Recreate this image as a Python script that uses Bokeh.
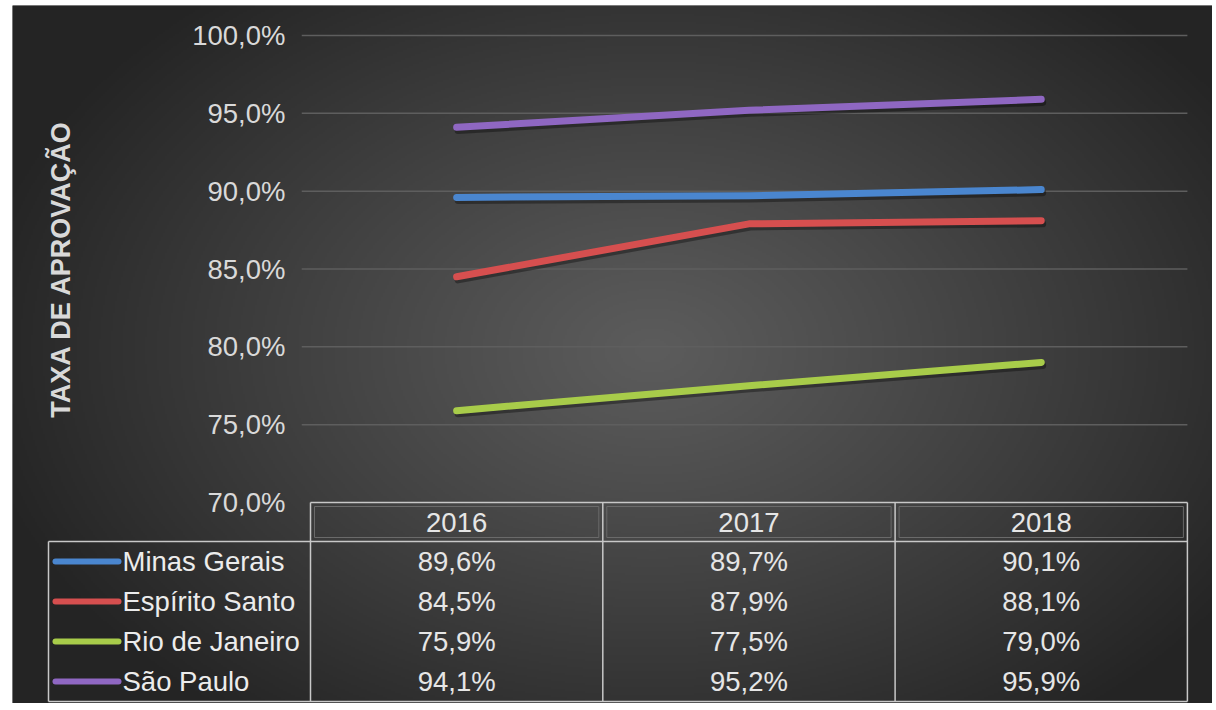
import numpy as np
from bokeh.plotting import figure
from bokeh.models import Range1d, LinearAxis, FixedTicker, CustomJSTickFormatter
from bokeh.core.properties import value
from bokeh.embed import file_html
from bokeh.resources import INLINE

# ---------------- data ----------------
years = ["2016", "2017", "2018"]
states = ["Minas Gerais", "Espírito Santo", "Rio de Janeiro", "São Paulo"]
minas_gerais = [89.6, 89.7, 90.1]
espirito_santo = [84.5, 87.9, 88.1]
rio_de_janeiro = [75.9, 77.5, 79.0]
sao_paulo = [94.1, 95.2, 95.9]
y_ticks = [70, 75, 80, 85, 90, 95, 100]

series = [minas_gerais, espirito_santo, rio_de_janeiro, sao_paulo]
colors = ["#4a86cf", "#d64f4f", "#a8cc4a", "#8f67c2"]

# ---------------- geometry ----------------
LEFT, TOP = 12, 5          # white strip around the dark chart
FW, FH = 1200, 698         # dark frame size
W, H = LEFT + FW, TOP + FH
PX_X = 292.3               # px per year column
PX_Y = 467.0 / 30.0        # px per percentage point
x_start = -(310 - LEFT) / PX_X
x_end = x_start + FW / PX_X
y_end = 100 + (35 - TOP) / PX_Y
y_start = y_end - FH / PX_Y

n = len(years)
xc = [i + 0.5 for i in range(n)]
FONT = value("Liberation Sans")
FS = "27.5px"

p = figure(width=W, height=H, output_backend="svg", toolbar_location=None,
           x_range=Range1d(x_start, x_end), y_range=Range1d(y_start, y_end),
           x_axis_type=None, y_axis_type=None,
           min_border_left=LEFT, min_border_top=TOP, min_border_right=0, min_border_bottom=0)
p.outline_line_color = None
p.background_fill_color = "#262626"
p.border_fill_color = "white"

# radial background gradient
nx, ny = 600, 350
fx = np.linspace(0, FW, nx)
fy = np.linspace(FH, 0, ny)
FX, FY = np.meshgrid(fx, fy)
t = np.sqrt(((FX - 640) / 690.0) ** 2 + ((FY - 345) / 470.0) ** 2)
t = np.clip(t, 0, 1)
g = (92 - (92 - 36) * t ** 1.1).astype(np.uint8)
rgba = np.zeros((ny, nx, 4), dtype=np.uint8)
rgba[..., 0] = g
rgba[..., 1] = g
rgba[..., 2] = g
rgba[..., 3] = 255
img = rgba.view(dtype=np.uint32).reshape((ny, nx))
bg = p.image_rgba(image=[img], x=x_start, y=y_start, dw=x_end - x_start, dh=y_end - y_start)
bg.level = "image"

# horizontal gridlines over the plot area only
p.segment(x0=[-0.03] * (len(y_ticks) - 1), y0=y_ticks[1:],
          x1=[n] * (len(y_ticks) - 1), y1=y_ticks[1:],
          line_color="#5e5e5e", line_width=1.5)

# y axis placed at the start of the plot area
fmt = CustomJSTickFormatter(code="return tick.toFixed(1).replace('.', ',') + '%';")
ax = LinearAxis(fixed_location=0, ticker=FixedTicker(ticks=y_ticks), formatter=fmt,
                bounds=(70, 100), axis_label="TAXA DE APROVAÇÃO")
ax.axis_line_color = None
ax.major_tick_line_color = None
ax.minor_tick_line_color = None
ax.major_tick_out = 0
ax.major_tick_in = 0
ax.major_label_standoff = 25
ax.major_label_text_font = "Liberation Sans"
ax.major_label_text_font_size = FS
ax.major_label_text_color = "#d9d9d9"
ax.axis_label_standoff = 113
ax.axis_label_text_font = "Liberation Sans"
ax.axis_label_text_font_size = "27px"
ax.axis_label_text_font_style = "bold"
ax.axis_label_text_color = "#d9d9d9"
p.add_layout(ax, "left")

# lines with soft shadow
for vals, c in zip(series, colors):
    p.line([x + 0.005 for x in xc], [v - 0.2 for v in vals], line_color="black",
           line_alpha=0.35, line_width=7, line_cap="round", line_join="round")
    p.line(xc, vals, line_color=c, line_width=7, line_cap="round", line_join="round")

# ---------------- data table ----------------
row_h = 40 / PX_Y
header_top = 70
header_bot = 70 - 39 / PX_Y
table_bot = header_bot - len(states) * row_h
leg_left = (48 - 310) / PX_X
tbl_col = "#c8c8c8"

# horizontal lines
p.segment(x0=[0, leg_left, leg_left], y0=[header_top, header_bot, table_bot],
          x1=[n, n, n], y1=[header_top, header_bot, table_bot],
          line_color=tbl_col, line_width=1.5)
# vertical lines
p.segment(x0=[i for i in range(n + 1)] + [leg_left],
          y0=[header_top] * (n + 1) + [header_bot],
          x1=[i for i in range(n + 1)] + [leg_left],
          y1=[table_bot] * (n + 2),
          line_color=tbl_col, line_width=1.5)
# faint inner bevel of header
inset_x = 4 / PX_X
inset_y = 4 / PX_Y
p.quad(left=[i + inset_x for i in range(n)], right=[i + 1 - inset_x for i in range(n)],
       top=[header_top - inset_y] * n, bottom=[header_bot + inset_y] * n,
       fill_color=None, line_color="#6a6a6a", line_width=1)

# header years
p.text(x=xc, y=[(header_top + header_bot) / 2] * n, text=years,
       text_font=FONT, text_font_size=FS,
       text_color="#e6e6e6", text_align="center", text_baseline="middle")

# rows
for r, (name, vals, c) in enumerate(zip(states, series, colors)):
    yc = header_bot - (r + 0.5) * row_h
    p.line([(55 - 310) / PX_X, (118 - 310) / PX_X], [yc, yc], line_color=c,
           line_width=6, line_cap="round")
    p.text(x=[(122 - 310) / PX_X], y=[yc], text=[name],
           text_font=FONT, text_font_size=FS,
           text_color="#ececec", text_align="left", text_baseline="middle")
    labels = [("%.1f" % v).replace(".", ",") + "%" for v in vals]
    p.text(x=xc, y=[yc] * n, text=labels,
           text_font=FONT, text_font_size=FS,
           text_color="#e6e6e6", text_align="center", text_baseline="middle")

open("out.html", "w").write(file_html(p, INLINE))
